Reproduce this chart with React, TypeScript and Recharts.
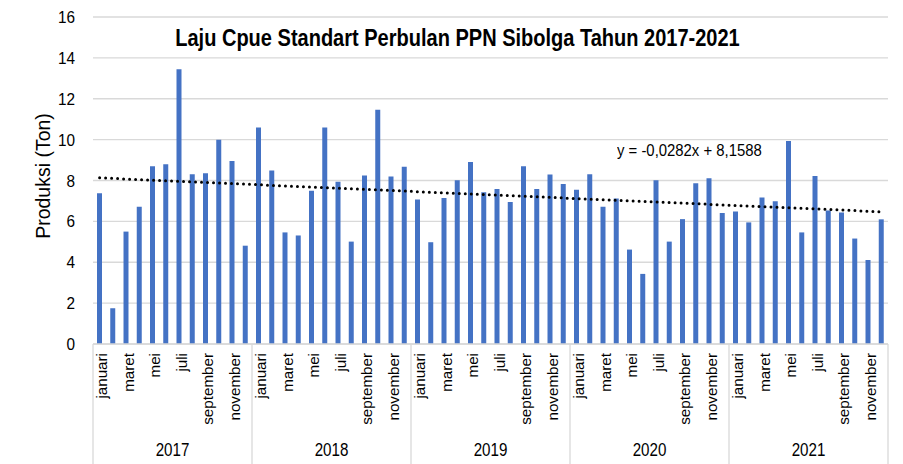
import React from 'react';
import { ComposedChart, Bar, Line, XAxis, YAxis, CartesianGrid } from 'recharts';

const years = ['2017', '2018', '2019', '2020', '2021'];
const months = ['januari', 'februari', 'maret', 'april', 'mei', 'juni', 'juli', 'agustus', 'september', 'oktober', 'november', 'desember'];
const values2017 = [7.38, 1.75, 5.5, 6.72, 8.7, 8.8, 13.44, 8.3, 8.35, 10.0, 8.96, 4.81];
const values2018 = [10.59, 8.49, 5.46, 5.31, 7.5, 10.59, 7.94, 5.01, 8.25, 11.46, 8.19, 8.67];
const values2019 = [7.07, 4.98, 7.14, 8.01, 8.91, 7.42, 7.58, 6.95, 8.7, 7.58, 8.29, 7.83];
const values2020 = [7.55, 8.31, 6.72, 7.12, 4.62, 3.43, 8.01, 5.01, 6.11, 7.86, 8.11, 6.41];
const values2021 = [6.48, 5.95, 7.17, 6.99, 9.93, 5.46, 8.22, 6.53, 6.44, 5.16, 4.11, 6.1];
const trendEnds = [8.13, 6.47];
const yTicks = [0, 2, 4, 6, 8, 10, 12, 14, 16];
const titleText = 'Laju Cpue Standart Perbulan PPN Sibolga Tahun 2017-2021';
const yLabelText = 'Produksi (Ton)';
const equationText = 'y = -0,0282x + 8,1588';

const seriesByYear = [values2017, values2018, values2019, values2020, values2021];

const data = years.flatMap((year, yi) =>
  months.map((month, mi) => ({
    key: `${year}-${mi}`,
    year,
    month,
    monthIndex: mi,
    value: seriesByYear[yi][mi],
    trend: null as number | null,
  }))
);
data[0].trend = trendEnds[0];
data[data.length - 1].trend = trendEnds[1];

const FONT = '"Liberation Sans", Arial, sans-serif';
const W = 903;
const H = 464;
const PLOT_LEFT = 93;
const PLOT_RIGHT = 888;
const AXIS_Y = 344;
const BAND = (PLOT_RIGHT - PLOT_LEFT) / data.length;
const GRID = '#d9d9d9';

function MonthTick(props: any) {
  const { x, payload } = props;
  const key: string = payload.value;
  const [year, miStr] = key.split('-');
  const mi = Number(miStr);
  const isLast = key === data[data.length - 1].key;
  const els: React.ReactNode[] = [];
  if (mi % 2 === 0) {
    els.push(
      <text
        key="m"
        transform={`translate(${x + 2},${AXIS_Y + 9}) rotate(-90)`}
        textAnchor="end"
        dominantBaseline="central"
        fontFamily={FONT}
        fontSize={15.2}
        fill="#000"
      >
        {months[mi]}
      </text>
    );
  }
  if (mi === 0) {
    const sx = x - BAND / 2;
    els.push(<line key="s" x1={sx} x2={sx} y1={AXIS_Y} y2={H} stroke={GRID} strokeWidth={1.3} />);
    els.push(
      <text
        key="y"
        transform={`translate(${sx + 6 * BAND},${456}) scale(0.82,1)`}
        textAnchor="middle"
        fontFamily={FONT}
        fontSize={18.5}
        fill="#000"
      >
        {year}
      </text>
    );
  }
  if (isLast) {
    const ex = x + BAND / 2;
    els.push(<line key="e" x1={ex} x2={ex} y1={AXIS_Y} y2={H} stroke={GRID} strokeWidth={1.3} />);
  }
  return <g>{els}</g>;
}

function NumTick(props: any) {
  const { y, payload } = props;
  return (
    <text
      transform={`translate(75,${y + 6}) scale(0.93,1)`}
      textAnchor="end"
      fontFamily={FONT}
      fontSize={16.5}
      fill="#000"
    >
      {payload.value}
    </text>
  );
}

export default function App() {
  return (
    <div style={{ position: 'absolute', left: 0, top: 0, width: W, height: H, background: '#fff', fontFamily: FONT }}>
      <ComposedChart
        width={W}
        height={H}
        data={data}
        margin={{ top: 17, right: W - PLOT_RIGHT, bottom: 0, left: 0 }}
        barCategoryGap={0}
      >
        <CartesianGrid vertical={false} stroke={GRID} strokeWidth={1.3} />
        <YAxis
          width={PLOT_LEFT}
          domain={[0, 16]}
          ticks={yTicks}
          axisLine={false}
          tickLine={false}
          tick={<NumTick />}
          interval={0}
        />
        <XAxis
          dataKey="key"
          interval={0}
          height={H - AXIS_Y}
          axisLine={{ stroke: GRID, strokeWidth: 1.3 }}
          tickLine={false}
          tick={<MonthTick />}
        />
        <Bar dataKey="value" fill="#4472C4" barSize={5} isAnimationActive={false} />
        <Line
          dataKey="trend"
          connectNulls
          stroke="#000"
          strokeWidth={3}
          strokeDasharray="0 6"
          strokeLinecap="round"
          dot={false}
          activeDot={false}
          isAnimationActive={false}
        />
      </ComposedChart>
      <div
        style={{
          position: 'absolute',
          left: 0,
          width: 915,
          top: 27,
          textAlign: 'center',
          fontSize: 23,
          lineHeight: '23px',
          fontWeight: 'bold',
          whiteSpace: 'nowrap',
          color: '#000',
          transform: 'scaleX(0.87)',
          transformOrigin: '457.5px 0',
        }}
      >
        {titleText}
      </div>
      <div
        style={{
          position: 'absolute',
          left: 43 - 100,
          top: 176 - 11,
          width: 200,
          height: 22,
          lineHeight: '22px',
          textAlign: 'center',
          fontSize: 19.5,
          transform: 'rotate(-90deg)',
          whiteSpace: 'nowrap',
          color: '#000',
        }}
      >
        {yLabelText}
      </div>
      <div
        style={{
          position: 'absolute',
          left: 617,
          top: 143,
          fontSize: 16,
          lineHeight: '16px',
          whiteSpace: 'nowrap',
          color: '#000',
          transform: 'scaleX(0.93)',
          transformOrigin: '0 0',
        }}
      >
        {equationText}
      </div>
    </div>
  );
}
